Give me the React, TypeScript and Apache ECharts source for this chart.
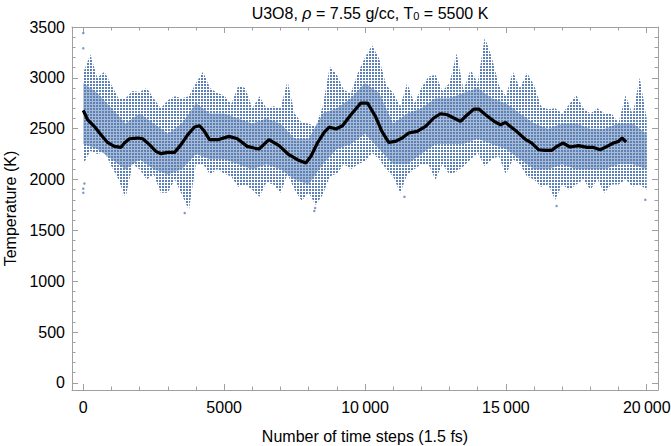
import { useEffect, useRef } from "react";
import * as echarts from "echarts";

// ---------- data ----------
const xLabelValues = [0, 5000, 10000, 15000, 20000];
const xLabelTexts = ["0", "5000", "10\u2009000", "15\u2009000", "20\u2009000"];
const xMinorValues = [1000, 2000, 3000, 4000, 6000, 7000, 8000, 9000, 11000, 12000, 13000, 14000, 16000, 17000, 18000, 19000];
const yLabelValues = [0, 500, 1000, 1500, 2000, 2500, 3000, 3500];
const yLabelTexts = ["0", "500", "1000", "1500", "2000", "2500", "3000", "3500"];
const yMinorValues = [100, 200, 300, 400, 600, 700, 800, 900, 1100, 1200, 1300, 1400, 1600, 1700, 1800, 1900, 2100, 2200, 2300, 2400, 2600, 2700, 2800, 2900, 3100, 3200, 3300, 3400];

// spread of the raw temperature samples (extent of the dotted streaks), every 250 steps
const bandSteps = [0, 250, 500, 750, 1000, 1250, 1500, 1750, 2000, 2250, 2500, 2750, 3000, 3250, 3500, 3750, 4000, 4250, 4500, 4750, 5000, 5250, 5500, 5750, 6000, 6250, 6500, 6750, 7000, 7250, 7500, 7750, 8000, 8250, 8500, 8750, 9000, 9250, 9500, 9750, 10000, 10250, 10500, 10750, 11000, 11250, 11500, 11750, 12000, 12250, 12500, 12750, 13000, 13250, 13500, 13750, 14000, 14250, 14500, 14750, 15000, 15250, 15500, 15750, 16000, 16250, 16500, 16750, 17000, 17250, 17500, 17750, 18000, 18250, 18500, 18750, 19000, 19250, 19500, 19750, 20000];
const bandHigh = [3050, 3230, 3000, 3060, 2930, 2800, 2800, 2870, 2860, 2900, 2800, 2700, 2780, 2820, 2800, 2820, 2950, 3060, 2900, 2850, 2830, 2740, 2920, 2900, 2700, 2820, 2700, 2720, 2700, 2970, 2650, 2560, 2550, 2520, 2720, 3110, 3030, 2880, 2850, 3050, 3200, 3320, 3190, 2930, 2850, 2720, 2950, 2750, 2900, 3010, 3030, 2870, 2950, 3240, 2880, 3080, 2950, 3400, 3200, 2930, 2820, 3060, 2900, 3050, 2930, 2720, 2690, 2700, 2650, 2740, 2830, 2700, 2650, 2700, 2650, 2650, 2560, 2830, 2640, 3000, 2600];
const bandLow = [2150, 2280, 2250, 2270, 2130, 2000, 1820, 2150, 2100, 2000, 2050, 1870, 1870, 2000, 1850, 1700, 2150, 2150, 2050, 2100, 2060, 2030, 1930, 1950, 1900, 1830, 1970, 1950, 1870, 2050, 1900, 1790, 1870, 1750, 1850, 2030, 2060, 2150, 2100, 2150, 2180, 2260, 2200, 2100, 2030, 1870, 2050, 2100, 2150, 2150, 2000, 2150, 2050, 2080, 2130, 2200, 2260, 2130, 2200, 2230, 2050, 2200, 2150, 2030, 2000, 1930, 1950, 1800, 1950, 1900, 1950, 2000, 1900, 2000, 1870, 1950, 1950, 2000, 1930, 1950, 1900];

// dense core of the samples, every 500 steps
const coreSteps = [0, 500, 1000, 1500, 2000, 2500, 3000, 3500, 4000, 4500, 5000, 5500, 6000, 6500, 7000, 7500, 8000, 8500, 9000, 9500, 10000, 10500, 11000, 11500, 12000, 12500, 13000, 13500, 14000, 14500, 15000, 15500, 16000, 16500, 17000, 17500, 18000, 18500, 19000, 19500, 20000];
const coreHigh = [2950, 2850, 2700, 2550, 2650, 2550, 2450, 2550, 2750, 2650, 2650, 2600, 2550, 2600, 2550, 2400, 2400, 2650, 2700, 2800, 2950, 2850, 2550, 2650, 2700, 2800, 2800, 2850, 2900, 2800, 2750, 2650, 2550, 2500, 2550, 2550, 2500, 2500, 2550, 2550, 2450];
const coreLow = [2350, 2300, 2200, 2100, 2200, 2100, 2050, 2100, 2250, 2200, 2200, 2150, 2100, 2150, 2100, 2000, 1950, 2150, 2300, 2350, 2450, 2300, 2150, 2150, 2250, 2350, 2350, 2350, 2400, 2350, 2300, 2200, 2100, 2100, 2150, 2100, 2100, 2100, 2150, 2150, 2100];

// isolated samples outside the streaks
const outlierSteps = [0, 0, 0, 0, 40, 3600, 8200, 8230, 11400, 16800, 19950];
const outlierTemps = [3440, 3290, 1870, 1910, 1960, 1670, 1690, 1720, 1830, 1740, 1800];

// running average (black curve)
const avgSteps = [0, 150, 390, 630, 860, 1100, 1340, 1460, 1640, 1930, 2110, 2350, 2580, 2760, 3000, 3240, 3470, 3710, 3950, 4130, 4300, 4480, 4780, 5170, 5470, 5820, 6060, 6240, 6590, 6950, 7300, 7600, 7900, 8080, 8310, 8550, 8730, 8970, 9200, 9500, 9850, 10090, 10370, 10600, 10840, 11080, 11320, 11550, 11850, 12150, 12440, 12680, 12920, 13150, 13390, 13630, 13870, 14040, 14280, 14580, 14810, 14990, 15150, 15380, 15680, 15920, 16160, 16390, 16630, 16810, 17020, 17280, 17580, 17880, 18110, 18350, 18590, 18820, 19000, 19120, 19270];
const avgTemps = [2680, 2590, 2523, 2441, 2365, 2326, 2316, 2359, 2401, 2408, 2401, 2343, 2277, 2254, 2267, 2267, 2343, 2441, 2516, 2529, 2474, 2392, 2392, 2424, 2401, 2326, 2310, 2300, 2392, 2333, 2244, 2195, 2162, 2228, 2359, 2464, 2516, 2497, 2529, 2637, 2752, 2752, 2621, 2474, 2365, 2375, 2408, 2457, 2474, 2523, 2605, 2647, 2637, 2605, 2572, 2637, 2693, 2693, 2637, 2572, 2539, 2562, 2523, 2474, 2398, 2359, 2293, 2287, 2287, 2326, 2359, 2320, 2333, 2316, 2316, 2293, 2326, 2359, 2375, 2408, 2369];

// ---------- styling ----------
const FONT = "'Liberation Sans', Arial, Helvetica, sans-serif";
const BLUE = "#5e81b5";
const CORE = "rgba(94,129,181,0.55)";
const FRAME = "#a0a0a0";

function makeTile(w: number, h: number, dw: number, dh: number, color: string) {
  const c = document.createElement("canvas");
  c.width = w;
  c.height = h;
  const ctx = c.getContext("2d");
  if (ctx) {
    ctx.fillStyle = color;
    ctx.fillRect(0, 0, dw, dh);
  }
  return c;
}

function bandSeries(steps: number[], hi: number[], lo: number[], fill: any, z: number) {
  return {
    type: "custom",
    xAxisIndex: 0,
    yAxisIndex: 0,
    z,
    silent: true,
    data: steps.map((s, i) => [s, lo[i], hi[i]]),
    encode: { x: 0, y: [1, 2] },
    renderItem: (params: any, api: any) => {
      if (params.dataIndex !== 0) return null;
      const pts: number[][] = [];
      for (let i = 0; i < steps.length; i++) pts.push(api.coord([steps[i], hi[i]]));
      for (let i = steps.length - 1; i >= 0; i--) pts.push(api.coord([steps[i], lo[i]]));
      return { type: "polygon", shape: { points: pts }, style: { fill } };
    },
  };
}

function xAxisDef(position: "bottom" | "top", ticks: number[], len: number, main: boolean) {
  return {
    type: "value",
    position,
    min: -400,
    max: 20400,
    splitLine: { show: false },
    axisLine: { show: main, onZero: false, lineStyle: { color: FRAME, width: 1 } },
    axisTick: { show: true, inside: true, length: len, customValues: ticks, lineStyle: { color: FRAME, width: 1 } },
    axisLabel: main && position === "bottom"
      ? {
          show: true,
          customValues: xLabelValues,
          margin: 9,
          fontSize: 16,
          color: "#000",
          fontFamily: FONT,
          formatter: (v: number) => xLabelTexts[xLabelValues.indexOf(v)] ?? "",
        }
      : { show: false },
    ...(main && position === "bottom"
      ? {
          name: "Number of time steps (1.5 fs)",
          nameLocation: "middle",
          nameGap: 38,
          nameTextStyle: { fontSize: 16, color: "#000", fontFamily: FONT },
        }
      : {}),
  };
}

function yAxisDef(position: "left" | "right", ticks: number[], len: number, main: boolean) {
  return {
    type: "value",
    position,
    min: -70,
    max: 3500,
    splitLine: { show: false },
    axisLine: { show: main, onZero: false, lineStyle: { color: FRAME, width: 1 } },
    axisTick: { show: true, inside: true, length: len, customValues: ticks, lineStyle: { color: FRAME, width: 1 } },
    axisLabel: main && position === "left"
      ? {
          show: true,
          customValues: yLabelValues,
          margin: 7,
          fontSize: 16,
          color: "#000",
          fontFamily: FONT,
          formatter: (v: number) => yLabelTexts[yLabelValues.indexOf(v)] ?? "",
        }
      : { show: false },
    ...(main && position === "left"
      ? {
          name: "Temperature (K)",
          nameLocation: "middle",
          nameGap: 51,
          nameRotate: 90,
          nameTextStyle: { fontSize: 16, color: "#000", fontFamily: FONT },
        }
      : {}),
  };
}

export default function App() {
  const ref = useRef<HTMLDivElement>(null);

  useEffect(() => {
    const el = ref.current;
    if (!el) return;
    const chart = echarts.init(el, null, { renderer: "svg", width: 671, height: 446 });

    const outerFill = { image: makeTile(3, 3, 2, 2, BLUE), repeat: "repeat" };

    chart.setOption({
      animation: false,
      backgroundColor: "#fff",
      textStyle: { fontFamily: FONT },
      title: {
        text: "U3O8, {i|ρ} = 7.55 g/cc, T{s|0} = 5500 K",
        left: 365,
        top: 0,
        textAlign: "center",
        textStyle: {
          fontSize: 16,
          fontWeight: "normal",
          color: "#000",
          fontFamily: FONT,
          rich: {
            i: { fontStyle: "italic", fontSize: 16, color: "#000", fontFamily: FONT },
            s: { fontSize: 11, color: "#000", fontFamily: FONT, padding: [5, 0, 0, 0] },
          },
        },
      },
      grid: { left: 72, right: 13, top: 27, bottom: 56, containLabel: false, outerBoundsMode: "none" },
      xAxis: [
        xAxisDef("bottom", xLabelValues, 6, true),
        xAxisDef("bottom", xMinorValues, 3.5, false),
        xAxisDef("top", xLabelValues, 6, true),
        xAxisDef("top", xMinorValues, 3.5, false),
      ],
      yAxis: [
        yAxisDef("left", yLabelValues, 6, true),
        yAxisDef("left", yMinorValues, 3.5, false),
        yAxisDef("right", yLabelValues, 6, true),
        yAxisDef("right", yMinorValues, 3.5, false),
      ],
      series: [
        bandSeries(bandSteps, bandHigh, bandLow, outerFill, 1),
        bandSeries(coreSteps, coreHigh, coreLow, CORE, 2),
        {
          type: "scatter",
          xAxisIndex: 0,
          yAxisIndex: 0,
          z: 3,
          symbolSize: 2.5,
          itemStyle: { color: BLUE },
          data: outlierSteps.map((s, i) => [s, outlierTemps[i]]),
        },
        {
          type: "line",
          xAxisIndex: 0,
          yAxisIndex: 0,
          z: 5,
          showSymbol: false,
          symbol: "none",
          lineStyle: { color: "#000", width: 3.2 },
          data: avgSteps.map((s, i) => [s, avgTemps[i]]),
        },
      ],
    });

    return () => chart.dispose();
  }, []);

  return <div ref={ref} style={{ position: "absolute", left: 0, top: 0, width: 671, height: 446 }} />;
}
